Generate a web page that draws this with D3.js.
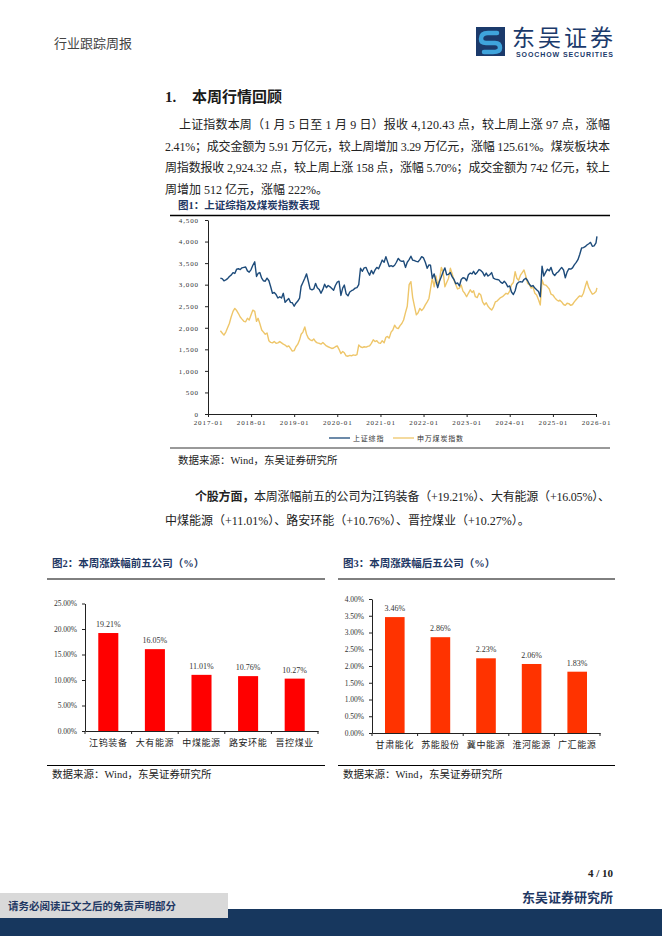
<!DOCTYPE html>
<html>
<head>
<meta charset="utf-8">
<script src="https://cdn.jsdelivr.net/npm/d3@7"></script>
<style>
  body { margin: 0; background: #fff; }
  svg { display: block; }
  text { font-family: "Liberation Serif", "Noto Sans CJK SC", serif; }
</style>
</head>
<body>
<svg id="page" width="662" height="936"></svg>
<script>
// ---- data ----
// semi-monthly closes (1st / 16th), 2017-04-16 .. 2026-01-09
const szValues = [
  3150,3140,3090,3110,3140,3190,3220,3280,3260,3360,3370,3350,3390,3400,3410,3320,3290,
  3350,3450,3530,3190,3260,3280,3150,3090,3080,3150,3090,2950,2800,2820,2770,2690,2720,2690,2800,2590,2640,2680,2590,2580,
  2500,2570,2620,2690,2960,3050,3150,3250,3080,2900,2880,2900,3030,2930,2890,2800,2890,3010,2930,2980,2950,2910,2870,2980,
  3060,3080,2750,2920,2990,2790,2740,2830,2860,2880,2920,2930,3000,3380,3310,3390,3400,3300,3220,3330,3250,3340,3400,3370,
  3470,3570,3520,3650,3540,3420,3440,3420,3450,3520,3610,3560,3540,3550,3400,3520,3580,3660,3570,3560,3540,3530,3580,3650,
  3620,3520,3380,3460,3450,3150,3250,3080,2930,3080,3190,3300,3390,3230,3240,3280,3180,3120,3020,3040,2970,3120,3160,3150,
  3090,3230,3270,3250,3310,3240,3290,3350,3330,3290,3200,3270,3200,3230,3280,3150,3130,3120,3110,3060,3030,3080,3030,2950,
  2970,2830,2770,2860,3010,3060,3070,3060,3120,3150,3090,3010,2960,2980,2920,2880,2840,2720,3430,3200,3290,3360,3320,3400,
  3260,3210,3270,3300,3350,3400,3340,3160,3290,3370,3360,3390,3460,3510,3580,3700,3850,3860,3880,3920,3950,3980,3890,3900,
  3970,4120
];
const coalValues = [
  1930,1880,1830,1900,2000,2100,2250,2380,2450,2400,2330,2250,2200,2150,2140,2220,2180,
  2300,2410,2380,2150,2220,2100,1950,1900,1850,1880,1700,1660,1650,1680,1640,1650,1680,1650,1620,1600,1560,1580,1520,1460,
  1470,1560,1620,1720,1850,1900,2020,1850,1760,1720,1700,1740,1680,1650,1640,1620,1660,1620,1580,1560,1540,1520,1530,1560,
  1580,1500,1400,1450,1420,1350,1340,1360,1350,1370,1360,1380,1600,1560,1540,1560,1550,1570,1580,1640,1720,1680,1700,1650,
  1640,1700,1650,1780,1800,1760,1900,1950,2060,2000,1980,2050,2100,2180,2350,2500,3000,3070,2700,2500,2300,2350,2450,2400,
  2450,2530,2600,2680,2900,3150,2950,3200,3000,3100,3400,3300,2950,3050,3150,3380,3250,3100,3000,2900,2920,2990,2850,2800,
  2720,2800,2880,2820,2860,2720,2700,2800,2760,2600,2530,2580,2500,2450,2410,2480,2600,2620,2660,2700,2720,2760,2800,2780,
  2850,3000,3050,3300,3150,3100,3220,3280,3340,3200,3030,3000,2920,2950,2800,2760,2650,2530,3110,3000,2990,2950,2900,2780,
  2760,2700,2650,2620,2640,2600,2540,2520,2570,2560,2520,2540,2600,2650,2700,2740,2720,2800,2950,3080,2930,2850,2780,2800,
  2840,2924
];
const seriesNames = ["上证综指", "申万煤炭指数"];
const yearTicks = ["2017-01","2018-01","2019-01","2020-01","2021-01","2022-01","2023-01","2024-01","2025-01","2026-01"];
const indexTicks = [0,500,1000,1500,2000,2500,3000,3500,4000,4500];

const topNames = ["江钨装备","大有能源","中煤能源","路安环能","晋控煤业"];
const topValues = [19.21, 16.05, 11.01, 10.76, 10.27];
const topTicks = [0,5,10,15,20,25];
const bottomNames = ["甘肃能化","苏能股份","冀中能源","淮河能源","广汇能源"];
const bottomValues = [3.46, 2.86, 2.23, 2.06, 1.83];
const bottomTicks = [0,0.5,1,1.5,2,2.5,3,3.5,4];

const NAVY = "#1f3864";
const svg = d3.select("#page");

// ---- header ----
svg.append("text").attr("x", 54).attr("y", 48).attr("font-size", 13).attr("fill", "#444").text("行业跟踪周报");

const logo = svg.append("g").attr("transform", "translate(476,27)");
logo.append("rect").attr("width", 29).attr("height", 29).attr("fill", "#1b3a6b");
logo.append("path")
  .attr("d", "M21,6 L12,6 Q5,6 5,12 Q5,16 10,16 L19,16 Q24,16 24,21 Q24,25 17,25 L8,25")
  .attr("fill", "none").attr("stroke", "#3fa4dc").attr("stroke-width", 4.5).attr("stroke-linecap", "round");
svg.append("text").attr("x", 512).attr("y", 46).attr("font-size", 23).attr("fill", "#1b3a6b")
  .attr("textLength", 101).text("东吴证券");
svg.append("text").attr("x", 516).attr("y", 57).attr("font-size", 7).attr("font-weight", "bold").attr("fill", "#1b3a6b")
  .style("font-family", "Liberation Sans, Arial, sans-serif").attr("textLength", 97).text("SOOCHOW SECURITIES");

// ---- section text ----
svg.append("text").attr("x", 165).attr("y", 102).attr("font-size", 15).attr("font-weight", "bold").attr("fill", "#1a1a1a").text("1.");
svg.append("text").attr("x", 192).attr("y", 102).attr("font-size", 15).attr("font-weight", "bold").attr("fill", "#1a1a1a").text("本周行情回顾");

const para = [
  { x: 179, y: 129, w: 431, t: "上证指数本周（1 月 5 日至 1 月 9 日）报收 4,120.43 点，较上周上涨 97 点，涨幅" },
  { x: 165, y: 150.5, w: 445, t: "2.41%；成交金额为 5.91 万亿元，较上周增加 3.29 万亿元，涨幅 125.61%。煤炭板块本" },
  { x: 165, y: 172, w: 445, t: "周指数报收 2,924.32 点，较上周上涨 158 点，涨幅 5.70%；成交金额为 742 亿元，较上" },
  { x: 165, y: 193.5, w: null, t: "周增加 512 亿元，涨幅 222%。" }
];
para.forEach(p => {
  const t = svg.append("text").attr("x", p.x).attr("y", p.y).attr("font-size", 12).attr("fill", "#222").text(p.t);
  if (p.w) t.attr("textLength", p.w).attr("lengthAdjust", "spacing");
});

// ---- figure 1: line chart ----
svg.append("text").attr("x", 178).attr("y", 209).attr("font-size", 10.5).attr("font-weight", "bold").attr("fill", NAVY).text("图1：上证综指及煤炭指数表现");
svg.append("line").attr("x1", 170).attr("x2", 610).attr("y1", 215.5).attr("y2", 215.5).attr("stroke", "#000").attr("stroke-width", 1.6);
svg.append("line").attr("x1", 170).attr("x2", 610).attr("y1", 448).attr("y2", 448).attr("stroke", "#000").attr("stroke-width", 0.8);
svg.append("text").attr("x", 178).attr("y", 464).attr("font-size", 10.5).attr("fill", "#222").text("数据来源：Wind，东吴证券研究所");

const parseMonth = d3.timeParse("%Y-%m");
const dates = szValues.map((v, i) => {
  const k = i + 1;
  const m = d3.timeMonth.offset(new Date(2017, 3, 1), Math.floor(k / 2));
  return new Date(m.getFullYear(), m.getMonth(), k % 2 ? 16 : 1);
});
dates[dates.length - 1] = new Date(2026, 0, 9);

const x1 = d3.scaleTime().domain([parseMonth(yearTicks[0]), parseMonth(yearTicks[yearTicks.length - 1])]).range([208, 596]);
const y1 = d3.scaleLinear().domain([0, 4500]).range([414, 220]);

const g1 = svg.append("g");
const yAxis1 = g1.append("g").attr("transform", "translate(208,0)")
  .call(d3.axisLeft(y1).tickValues(indexTicks).tickFormat(d3.format(",")).tickSize(3).tickSizeOuter(0));
yAxis1.selectAll("text").attr("font-size", 7).attr("letter-spacing", 0.9).attr("fill", "#333").attr("dx", -3);
const xAxis1 = g1.append("g").attr("transform", "translate(0,414)")
  .call(d3.axisBottom(x1).tickValues(yearTicks.map(parseMonth)).tickFormat(d3.timeFormat("%Y-%m")).tickSize(3).tickSizeOuter(0));
xAxis1.selectAll("text").attr("font-size", 7).attr("letter-spacing", 0.9).attr("fill", "#333");
g1.selectAll(".domain, .tick line").attr("stroke", "#222");

const colors = ["#1d4b7a", "#eec66a"];
const line = d3.line().x((d, i) => x1(dates[i])).y(d => y1(d));
[coalValues, szValues].forEach((vals, k) => {
  g1.append("path").datum(vals)
    .attr("fill", "none").attr("stroke", k === 0 ? colors[1] : colors[0])
    .attr("stroke-width", 1.4).attr("stroke-linejoin", "round").attr("d", line);
});

const legend = svg.append("g").attr("transform", "translate(0,438)");
seriesNames.forEach((n, i) => {
  const lx = i === 0 ? 329 : 393;
  legend.append("line").attr("x1", lx).attr("x2", lx + 21).attr("y1", 0).attr("y2", 0).attr("stroke", colors[i]).attr("stroke-width", 1.3);
  legend.append("text").attr("x", lx + 24).attr("y", 2.5).attr("font-size", 7).attr("letter-spacing", 0.8).attr("fill", "#333").text(n);
});

// ---- second paragraph ----
const p2 = svg.append("text").attr("x", 195).attr("y", 501).attr("font-size", 12).attr("fill", "#222")
  .attr("textLength", 415).attr("lengthAdjust", "spacing");
p2.append("tspan").attr("font-weight", "bold").text("个股方面，");
p2.append("tspan").text("本周涨幅前五的公司为江钨装备（+19.21%）、大有能源（+16.05%）、");
svg.append("text").attr("x", 165).attr("y", 525).attr("font-size", 12).attr("fill", "#222")
  .text("中煤能源（+11.01%）、路安环能（+10.76%）、晋控煤业（+10.27%）。");

// ---- bar charts ----
function barChart(cfg) {
  const g = svg.append("g");
  g.append("text").attr("x", cfg.left).attr("y", 567).attr("font-size", 10.5).attr("font-weight", "bold").attr("fill", NAVY).text(cfg.title);
  g.append("line").attr("x1", cfg.left - 5).attr("x2", cfg.right).attr("y1", 579).attr("y2", 579).attr("stroke", "#000").attr("stroke-width", 1);
  g.append("line").attr("x1", cfg.left - 5).attr("x2", cfg.right).attr("y1", 765.5).attr("y2", 765.5).attr("stroke", "#000").attr("stroke-width", 1);
  g.append("text").attr("x", cfg.left).attr("y", 778).attr("font-size", 10.5).attr("fill", "#222").text("数据来源：Wind，东吴证券研究所");

  const x = d3.scaleBand().domain(cfg.names).range([cfg.x0, cfg.x1]).paddingInner(0.57).paddingOuter(0.285);
  const y = d3.scaleLinear().domain([0, d3.max(cfg.ticks)]).range([cfg.y0, cfg.yTop]);

  const ya = g.append("g").attr("transform", `translate(${cfg.x0},0)`)
    .call(d3.axisLeft(y).tickValues(cfg.ticks).tickFormat(d => d.toFixed(2) + "%").tickSize(3).tickSizeOuter(0));
  ya.selectAll("text").attr("font-size", 7.5).attr("fill", "#333").attr("dx", -2);
  const xa = g.append("g").attr("transform", `translate(0,${cfg.y0})`)
    .call(d3.axisBottom(x).tickSize(0).tickSizeOuter(0));
  xa.selectAll("text").attr("font-size", 9).attr("fill", "#222").attr("dy", "1.35em").attr("letter-spacing", 0.6);
  g.selectAll(".sep").data(d3.range(cfg.names.length + 1)).enter().append("line")
    .attr("x1", i => cfg.x0 + i * x.step()).attr("x2", i => cfg.x0 + i * x.step())
    .attr("y1", cfg.y0).attr("y2", cfg.y0 + 3).attr("stroke", "#222");
  g.selectAll(".domain, .tick line").attr("stroke", "#222");

  g.selectAll(".bar").data(cfg.values).enter().append("rect")
    .attr("x", (d, i) => x(cfg.names[i])).attr("width", x.bandwidth())
    .attr("y", d => y(d)).attr("height", d => cfg.y0 - y(d)).attr("fill", cfg.color);
  g.selectAll(".lbl").data(cfg.values).enter().append("text")
    .attr("x", (d, i) => x(cfg.names[i]) + x.bandwidth() / 2).attr("y", d => y(d) - 6)
    .attr("text-anchor", "middle").attr("font-size", 8).attr("fill", "#333").text(d => d.toFixed(2) + "%");
}

barChart({ title: "图2：本周涨跌幅前五公司（%）", left: 52, right: 325, x0: 85, x1: 318, y0: 731, yTop: 603.5,
  names: topNames, values: topValues, ticks: topTicks, color: "#ff0000" });
barChart({ title: "图3：本周涨跌幅后五公司（%）", left: 343, right: 615, x0: 372, x1: 600, y0: 733, yTop: 599,
  names: bottomNames, values: bottomValues, ticks: bottomTicks, color: "#ff3300" });

// ---- footer ----
svg.append("text").attr("x", 613).attr("y", 877).attr("text-anchor", "end").attr("font-size", 11).attr("font-weight", "bold").attr("fill", "#222").text("4 / 10");
svg.append("text").attr("x", 613).attr("y", 902).attr("text-anchor", "end").attr("font-size", 13).attr("font-weight", "bold").attr("fill", NAVY).text("东吴证券研究所");
svg.append("rect").attr("x", 0).attr("y", 909).attr("width", 662).attr("height", 27).attr("fill", "#17375e");
svg.append("rect").attr("x", 0).attr("y", 893).attr("width", 228).attr("height", 25).attr("fill", "#d9d9d9");
svg.append("text").attr("x", 8).attr("y", 910).attr("font-size", 10.5).attr("font-weight", "bold").attr("fill", NAVY).text("请务必阅读正文之后的免责声明部分");
</script>
</body>
</html>
